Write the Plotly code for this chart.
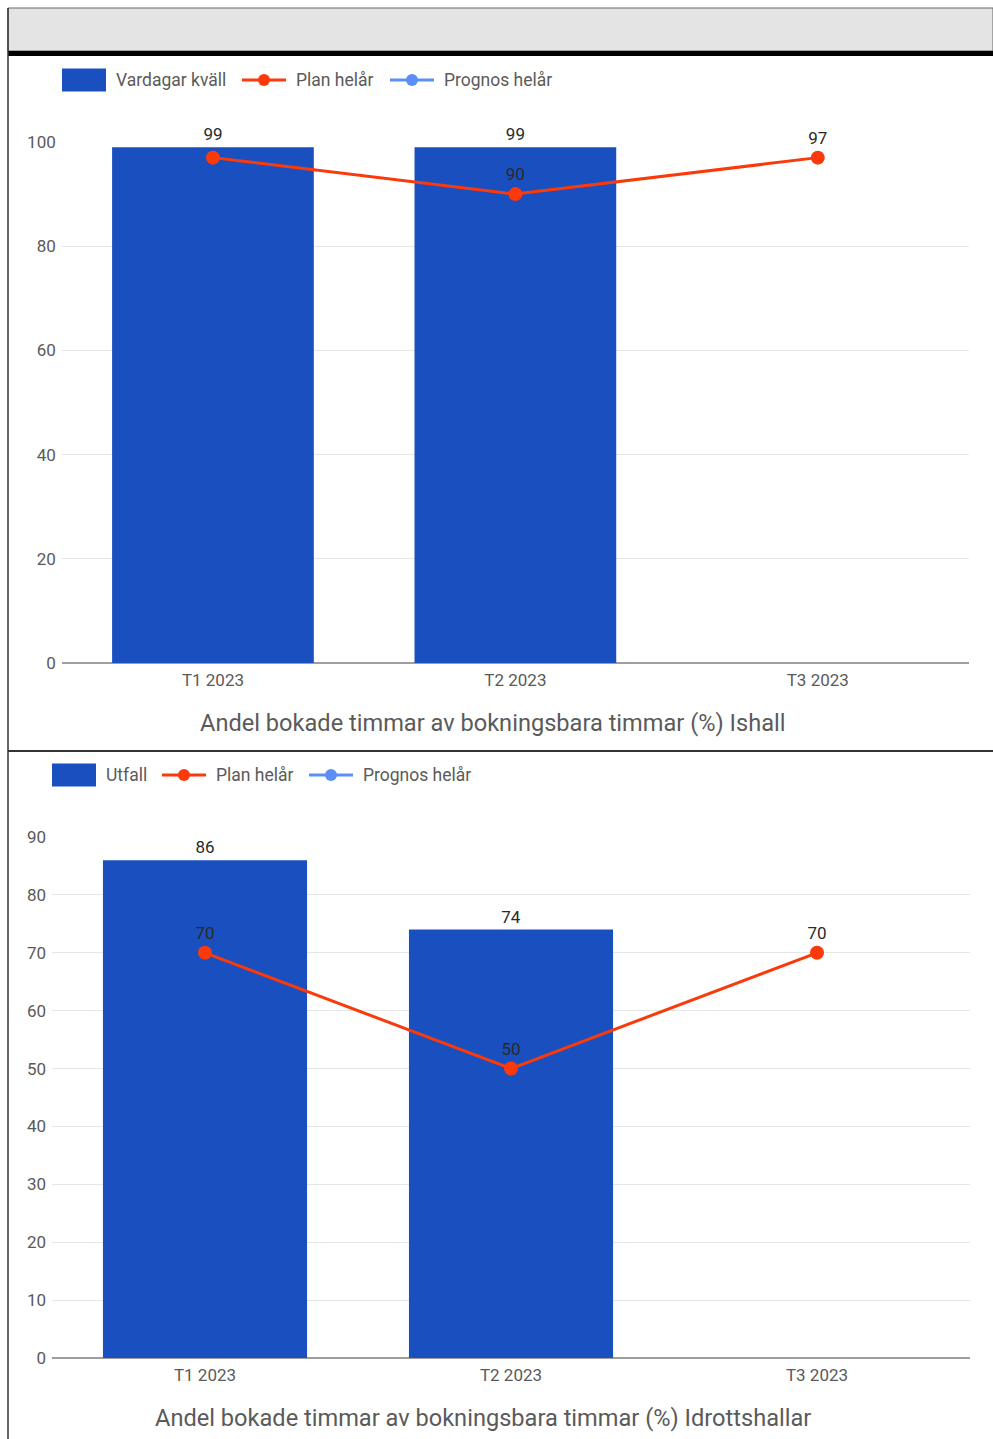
import plotly.graph_objects as go

W, H = 993, 1439

# ---- data ----
categories = ["T1 2023", "T2 2023", "T3 2023"]

ishall_bar_name = "Vardagar kväll"
ishall_bar = [99, 99, None]
ishall_plan = [97, 90, 97]
ishall_plan_label_shown = [False, True, True]
ishall_prognos = [None, None, None]
ishall_title = "Andel bokade timmar av bokningsbara timmar (%) Ishall"
ishall_ticks = [0, 20, 40, 60, 80, 100]

idrott_bar_name = "Utfall"
idrott_bar = [86, 74, None]
idrott_plan = [70, 50, 70]
idrott_plan_label_shown = [True, True, True]
idrott_prognos = [None, None, None]
idrott_title = "Andel bokade timmar av bokningsbara timmar (%) Idrottshallar"
idrott_ticks = [0, 10, 20, 30, 40, 50, 60, 70, 80, 90]

plan_name = "Plan helår"
prognos_name = "Prognos helår"

# ---- styles ----
BLUE = "#1a4fbf"
RED = "#fb3a0c"
LBLUE = "#5b8ff5"
FONT = "Roboto"
TXT = "#5a5a5a"
LBL = "#2a2a2a"
LEG_SIZE = 17.5
TICK_SIZE = 17
LABEL_SIZE = 17
TITLE_SIZE = 23.6


def px(x):
    return x / W


def py(y):
    return 1 - y / H


fig = go.Figure()


def add_chart(idx, bar_name, bar_vals, plan_vals, shown, prog_vals):
    xa = "x" if idx == 1 else "x2"
    ya = "y" if idx == 1 else "y2"
    fig.add_trace(go.Bar(
        x=categories, y=bar_vals, name=bar_name, marker_color=BLUE,
        marker_line_width=0,
        text=[("" if v is None else str(v)) for v in bar_vals],
        textposition="outside", constraintext="none", cliponaxis=False,
        textfont=dict(family=FONT, size=LABEL_SIZE, color=LBL),
        xaxis=xa, yaxis=ya, showlegend=False,
    ))
    fig.add_trace(go.Scatter(
        x=categories, y=plan_vals, name=plan_name, mode="lines+markers+text",
        line=dict(color=RED, width=3), marker=dict(color=RED, size=14),
        text=[str(v) if s else "" for v, s in zip(plan_vals, shown)],
        textposition="top center", cliponaxis=False,
        textfont=dict(family=FONT, size=LABEL_SIZE, color=LBL),
        xaxis=xa, yaxis=ya, showlegend=False,
    ))
    fig.add_trace(go.Scatter(
        x=categories, y=prog_vals, name=prognos_name, mode="lines+markers",
        line=dict(color=LBLUE, width=3), marker=dict(color=LBLUE, size=12),
        xaxis=xa, yaxis=ya, showlegend=False,
    ))


add_chart(1, ishall_bar_name, ishall_bar, ishall_plan, ishall_plan_label_shown, ishall_prognos)
add_chart(2, idrott_bar_name, idrott_bar, idrott_plan, idrott_plan_label_shown, idrott_prognos)

axis_common = dict(
    showgrid=True, gridcolor="#e6e6e6", gridwidth=1,
    zeroline=True, zerolinecolor="#9e9e9e", zerolinewidth=2,
    tickfont=dict(family=FONT, size=TICK_SIZE, color=TXT), fixedrange=True,
    ticks="", ticklabelstandoff=5, automargin=False,
)
xaxis_common = dict(
    type="category", showgrid=False, zeroline=False, showline=False,
    tickfont=dict(family=FONT, size=TICK_SIZE, color=TXT), ticks="",
    ticklabelstandoff=5, automargin=False, fixedrange=True,
)

fig.update_layout(
    width=W, height=H,
    autosize=False,
    margin=dict(l=0, r=0, t=0, b=0, pad=0, autoexpand=False),
    paper_bgcolor="white", plot_bgcolor="white",
    bargap=0.333,
    showlegend=False,
    hovermode=False,
    font=dict(family=FONT, color=TXT),
    xaxis=dict(domain=[px(61.75), px(969)], anchor="y", **xaxis_common),
    yaxis=dict(domain=[py(663), py(142)], anchor="x", range=[0, 100],
               tickvals=ishall_ticks, **axis_common),
    xaxis2=dict(domain=[px(52), px(970)], anchor="y2", **xaxis_common),
    yaxis2=dict(domain=[py(1358), py(837)], anchor="x2", range=[0, 90],
                tickvals=idrott_ticks, **axis_common),
)

shapes = []
annotations = []

# frame
shapes.append(dict(type="rect", xref="paper", yref="paper",
                   x0=px(8), x1=px(993), y0=py(51), y1=py(8),
                   fillcolor="#e4e4e4", line=dict(color="#666", width=1)))
shapes.append(dict(type="rect", xref="paper", yref="paper",
                   x0=px(8), x1=px(993), y0=py(56), y1=py(51),
                   fillcolor="black", line=dict(width=0)))
shapes.append(dict(type="line", xref="paper", yref="paper",
                   x0=px(8), x1=px(8), y0=py(8), y1=py(1439),
                   line=dict(color="#333", width=1.5)))
shapes.append(dict(type="line", xref="paper", yref="paper",
                   x0=px(8), x1=px(993), y0=py(751), y1=py(751),
                   line=dict(color="#333", width=2)))


def legend(yc, bar_x, bar_name, plan_x, prog_x):
    shapes.append(dict(type="rect", xref="paper", yref="paper",
                       x0=px(bar_x), x1=px(bar_x + 44), y0=py(yc + 11.5), y1=py(yc - 11.5),
                       fillcolor=BLUE, line=dict(width=0)))
    annotations.append(dict(xref="paper", yref="paper", x=px(bar_x + 52), y=py(yc),
                            xanchor="left", yanchor="middle", showarrow=False,
                            text=bar_name, font=dict(family=FONT, size=LEG_SIZE, color=TXT)))
    for lx, col, name in [(plan_x, RED, plan_name), (prog_x, LBLUE, prognos_name)]:
        shapes.append(dict(type="line", xref="paper", yref="paper",
                           x0=px(lx), x1=px(lx + 44), y0=py(yc), y1=py(yc),
                           line=dict(color=col, width=3)))
        shapes.append(dict(type="circle", xref="paper", yref="paper",
                           x0=px(lx + 16), x1=px(lx + 28), y0=py(yc + 6), y1=py(yc - 6),
                           fillcolor=col, line=dict(width=0)))
        annotations.append(dict(xref="paper", yref="paper", x=px(lx + 52), y=py(yc),
                                xanchor="left", yanchor="middle", showarrow=False,
                                text=name, font=dict(family=FONT, size=LEG_SIZE, color=TXT)))


legend(80, 62, ishall_bar_name, 242, 390)
legend(775, 52, idrott_bar_name, 162, 309)

annotations.append(dict(xref="paper", yref="paper", x=px(492), y=py(723),
                        xanchor="center", yanchor="middle", showarrow=False,
                        text=ishall_title, font=dict(family=FONT, size=TITLE_SIZE, color=TXT)))
annotations.append(dict(xref="paper", yref="paper", x=px(483), y=py(1418),
                        xanchor="center", yanchor="middle", showarrow=False,
                        text=idrott_title, font=dict(family=FONT, size=TITLE_SIZE, color=TXT)))

fig.update_layout(shapes=shapes, annotations=annotations)

fig.write_html(
    "out.html",
    config={"displayModeBar": False, "staticPlot": True},
    post_script=(
        "document.documentElement.style.margin='0';"
        "document.body.style.margin='0';document.body.style.padding='0';"
        "document.body.style.overflow='hidden';"
        "var gd=document.getElementById('{plot_id}');"
        "gd.style.position='absolute';gd.style.top='0';gd.style.left='0';"
    ),
)
